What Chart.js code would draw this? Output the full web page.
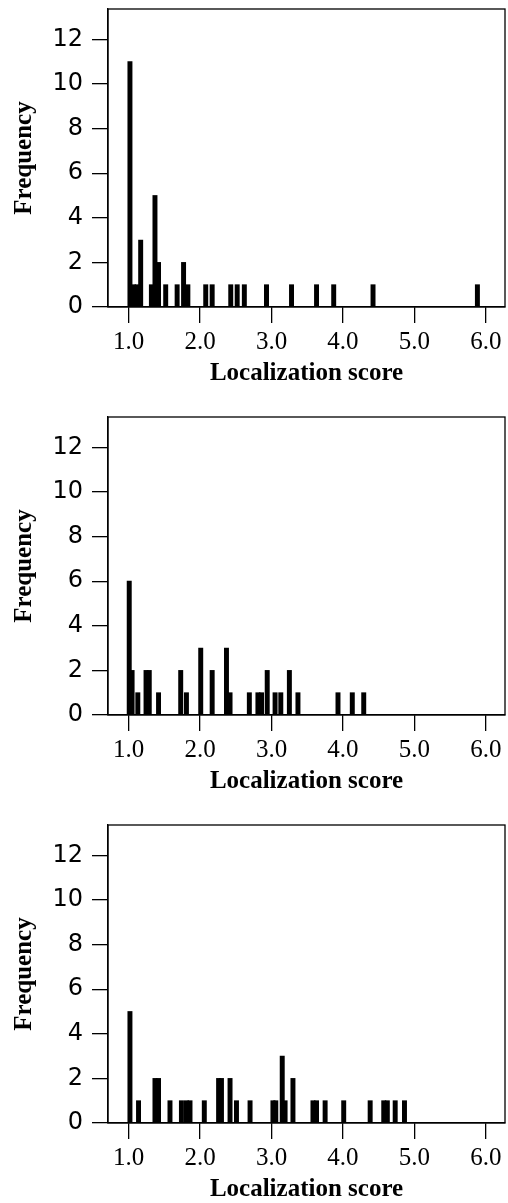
<!DOCTYPE html>
<html>
<head>
<meta charset="utf-8">
<script src="https://cdn.jsdelivr.net/npm/chart.js@4/dist/chart.umd.min.js"></script>
<style>
  body { margin: 0; background: #fff; overflow: hidden; }
  canvas { display: block; }
</style>
</head>
<body>
<canvas id="chart1" width="508" height="408"></canvas>
<canvas id="chart2" width="508" height="408"></canvas>
<canvas id="chart3" width="508" height="408"></canvas>
<script>
const xTicks = [1, 2, 3, 4, 5, 6];
const yTicks = [0, 2, 4, 6, 8, 10, 12];

// panel 1
const scores1 = [1.02, 1.07, 1.12, 1.17, 1.32, 1.37, 1.42, 1.52, 1.68, 1.77, 1.83, 2.08, 2.17, 2.43, 2.52, 2.62, 2.93, 3.28, 3.63, 3.87, 4.42, 5.88];
const counts1 = [11, 1, 1, 3, 1, 5, 2, 1, 1, 2, 1, 1, 1, 1, 1, 1, 1, 1, 1, 1, 1, 1];

// panel 2
const scores2 = [1.01, 1.05, 1.13, 1.245, 1.29, 1.42, 1.73, 1.81, 2.01, 2.17, 2.37, 2.42, 2.69, 2.81, 2.86, 2.94, 3.05, 3.13, 3.25, 3.37, 3.93, 4.13, 4.29];
const counts2 = [6, 2, 1, 2, 2, 1, 2, 1, 3, 2, 3, 1, 1, 1, 1, 2, 1, 1, 2, 1, 1, 1, 1];

// panel 3
const scores3 = [1.02, 1.14, 1.37, 1.42, 1.58, 1.74, 1.81, 1.86, 2.06, 2.26, 2.30, 2.42, 2.51, 2.70, 3.02, 3.06, 3.15, 3.19, 3.30, 3.58, 3.63, 3.75, 4.01, 4.38, 4.57, 4.62, 4.73, 4.86];
const counts3 = [5, 1, 2, 2, 1, 1, 1, 1, 1, 2, 2, 2, 1, 1, 1, 1, 3, 1, 2, 1, 1, 1, 1, 1, 1, 1, 1, 1];

const boxPlugin = {
    id: 'box',
    afterDraw(chart) {
        const a = chart.chartArea;
        const ctx = chart.ctx;
        ctx.save();
        ctx.strokeStyle = '#000';
        ctx.lineWidth = 1.3;
        ctx.strokeRect(a.left, a.top, a.right - a.left, a.bottom - a.top);
        ctx.restore();
    }
};

function makePanel(id, scores, counts) {
    const ctx = document.getElementById(id);
    new Chart(ctx, {
        type: 'bar',
        data: {
            datasets: [{
                data: scores.map((s, i) => ({x: s, y: counts[i]})),
                backgroundColor: '#000',
                borderWidth: 0,
                barThickness: 4.3
            }]
        },
        options: {
            responsive: false,
            animation: false,
            layout: { padding: { top: 9, right: 3, left: 0, bottom: 0 } },
            plugins: { legend: { display: false }, tooltip: { enabled: false } },
            scales: {
                x: {
                    type: 'linear',
                    offset: false,
                    min: 0.713,
                    max: 6.266,
                    afterBuildTicks: s => { s.ticks = xTicks.map(v => ({value: v})); },
                    afterFit: s => { s.height = 101; s.paddingLeft = 0; s.paddingRight = 0; },
                    grid: { offset: false, drawOnChartArea: false, drawTicks: true, tickLength: 16, color: '#000', lineWidth: 1.3 },
                    border: { display: true, color: '#000', width: 1.3 },
                    ticks: {
                        color: '#000',
                        padding: 4,
                        maxRotation: 0,
                        font: { family: 'Liberation Serif', size: 25 },
                        callback: v => v.toFixed(1)
                    },
                    title: {
                        display: true,
                        text: 'Localization score',
                        color: '#000',
                        padding: { top: 0, bottom: 19 },
                        font: { family: 'Liberation Serif', size: 25, weight: 'bold' }
                    }
                },
                y: {
                    min: 0,
                    max: 13.36,
                    afterBuildTicks: s => { s.ticks = yTicks.map(v => ({value: v})); },
                    afterFit: s => { s.width = 108; s.paddingTop = 0; s.paddingBottom = 0; },
                    grid: { drawOnChartArea: false, drawTicks: true, tickLength: 16, color: '#000', lineWidth: 1.3 },
                    border: { display: true, color: '#000', width: 1.3 },
                    ticks: {
                        color: '#000',
                        padding: 9,
                        font: { family: 'DejaVu Sans', size: 24 }
                    },
                    title: {
                        display: true,
                        text: 'Frequency',
                        color: '#000',
                        padding: { top: 10, bottom: 0 },
                        font: { family: 'Liberation Serif', size: 25, weight: 'bold' }
                    }
                }
            }
        },
        plugins: [boxPlugin]
    });
}

makePanel('chart1', scores1, counts1);
makePanel('chart2', scores2, counts2);
makePanel('chart3', scores3, counts3);
</script>
</body>
</html>
